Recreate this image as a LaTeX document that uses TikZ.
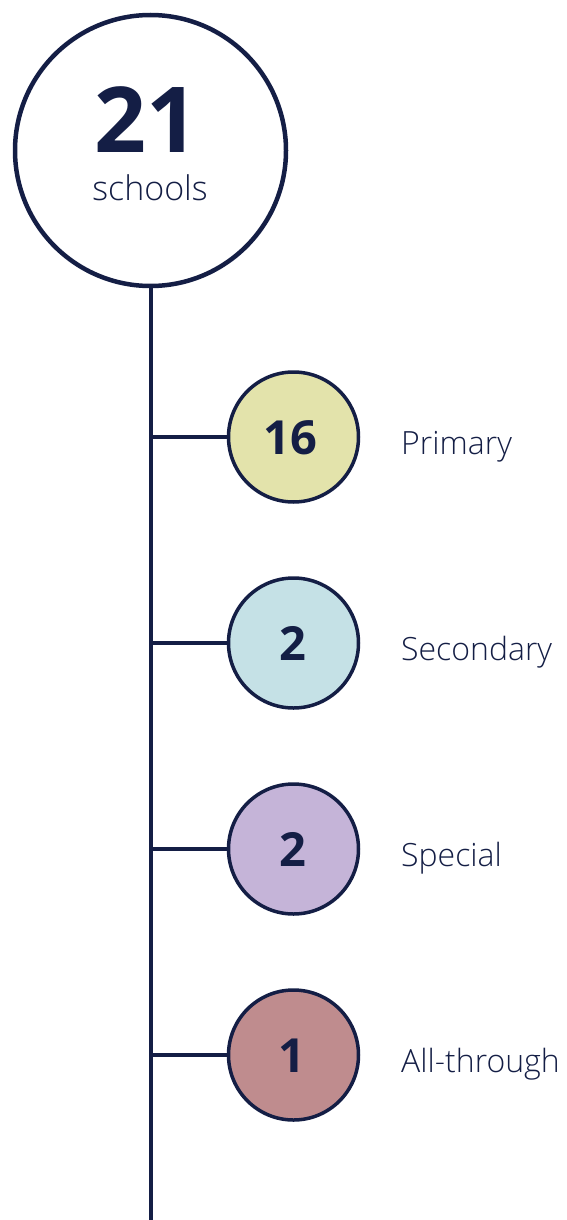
\documentclass[tikz,border=0pt]{standalone}
\usepackage{fontspec}
\setmainfont{Open Sans}
\newfontfamily\lightfont{Open Sans Light}
\definecolor{navy}{HTML}{141E45}
\definecolor{cprim}{HTML}{E3E3AB}
\definecolor{csec}{HTML}{C5E1E6}
\definecolor{cspec}{HTML}{C5B4D8}
\definecolor{call}{HTML}{BF8C8E}
\begin{document}
\begin{tikzpicture}[x=1pt,y=-1pt,
  bigc/.style={circle,draw=navy,line width=4.5pt,fill=white,minimum size=271pt,inner sep=0pt},
  smallc/.style={circle,draw=navy,line width=3.5pt,minimum size=130pt,inner sep=0pt},
  conn/.style={draw=navy,line width=4pt},
  num/.style={anchor=base,text=navy,font=\fontsize{47}{47}\selectfont\bfseries,inner sep=0pt},
  lab/.style={anchor=base west,text=navy,font=\fontsize{32}{32}\lightfont,inner sep=0pt}]
\useasboundingbox (0,0) rectangle (566,1220);
\coordinate (bot) at (150.5,1220);
\node[bigc] (big) at (150.5,150.5) {};
\draw[conn] (big.south) -- (bot);
\node[anchor=base,text=navy,font=\fontsize{91}{91}\selectfont\bfseries,inner sep=0pt] (n21) at (146,153) {21};
\node[anchor=base,text=navy,font=\fontsize{34}{34}\lightfont,inner sep=0pt] (sch) at (150,200) {schools};
\foreach \y/\c/\n/\t/\nm/\nx in {437/cprim/16/Primary/a/290, 643/csec/2/Secondary/b/293, 849/cspec/2/Special/c/293, 1055/call/1/All-through/d/292}{
  \node[smallc,fill=\c] (c\nm) at (293.5,\y) {};
  \coordinate (j\nm) at (150.5,\y);
  \draw[conn] (j\nm) -- (c\nm.west);
  \node[num] (n\nm) at (\nx,\y+17) {\n};
  \node[lab] (l\nm) at (401,\y+17) {\t};
}
\end{tikzpicture}
\end{document}
